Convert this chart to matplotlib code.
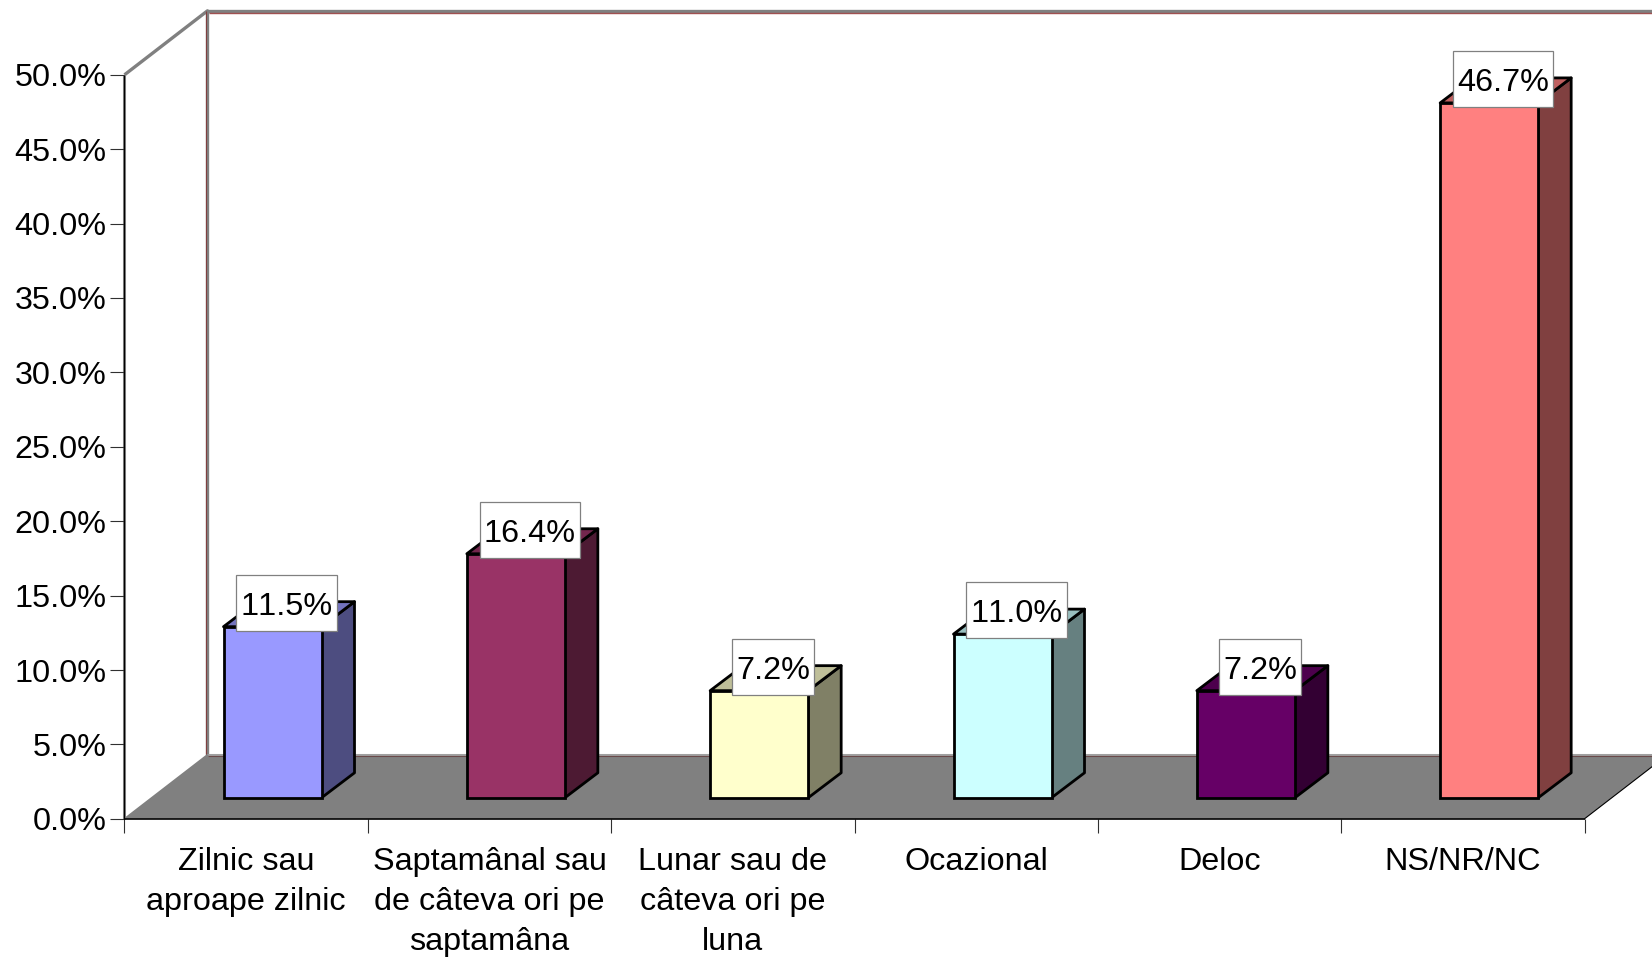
import matplotlib.pyplot as plt
import numpy as np
from matplotlib.colors import to_rgb
from matplotlib.patches import Polygon, Rectangle

plt.rcParams['font.family'] = ['Liberation Sans', 'DejaVu Sans']
plt.rcParams['text.kerning_factor'] = 6

categories = [
    'Zilnic sau\naproape zilnic',
    'Saptamânal sau\nde câteva ori pe\nsaptamâna',
    'Lunar sau de\ncâteva ori pe\nluna',
    'Ocazional',
    'Deloc',
    'NS/NR/NC',
]
values = [11.5, 16.4, 7.2, 11.0, 7.2, 46.7]
value_labels = ['11.5%', '16.4%', '7.2%', '11.0%', '7.2%', '46.7%']
colors = ['#9999FF', '#993366', '#FFFFCC', '#CCFFFF', '#660066', '#FF8080']
y_ticks = np.arange(0, 55, 5)

W, H = 1652, 957
PX_X = 1 / 243.33  # one pixel in category units
PX_Y = 1 / 14.88   # one pixel in percent units

# depth of the fake 3d box and of the bars
wall_dx, wall_dy = 83 * PX_X, 64 * PX_Y
bar_dx, bar_dy = 33 * PX_X, 25 * PX_Y
bar_x0, bar_y0 = 99 * PX_X, 21 * PX_Y
bar_w = 98 * PX_X

fig = plt.figure(figsize=(W / 100, H / 100), dpi=100)
ax = fig.add_axes([124.5 / W, (H - 818.8) / H, 1460 / W, 744 / H])
ax.set_xlim(0, 6)
ax.set_ylim(0, 50)
for s in ax.spines.values():
    s.set_visible(False)
ax.patch.set_visible(False)


def poly(pts, **kw):
    ax.add_patch(Polygon(pts, closed=True, clip_on=False, **kw))


def line(xs, ys, color, lw, z=1.5):
    ax.plot(xs, ys, color=color, lw=lw, clip_on=False, zorder=z,
            solid_capstyle='butt')


# floor
right = 6 + wall_dx
poly([(0, 0), (6, 0), (right, wall_dy), (wall_dx, wall_dy)],
     facecolor='#808080', edgecolor='none', zorder=1)

# walls: grey outline with a thin dark red line inside
top = 50 + wall_dy
line([0, wall_dx, wall_dx], [50, top, wall_dy], '#808080', 2.4)
line([wall_dx, right], [top, top], '#808080', 2.4)
line([wall_dx, right], [wall_dy, wall_dy], '#A0A0A0', 2.2)
line([wall_dx + 1.5 * PX_X, right], [top - 2 * PX_Y, top - 2 * PX_Y], '#A05050', 1.0)
line([wall_dx - 1.4 * PX_X, wall_dx - 1.4 * PX_X], [top, wall_dy], '#804040', 0.8)
line([wall_dx, right], [wall_dy - 1.5 * PX_Y, wall_dy - 1.5 * PX_Y], '#6A4A4A', 0.8)
line([0, wall_dx], [0, wall_dy], '#808080', 1.2)
line([0, 0], [0, 50], '#808080', 2.2)
line([-0.6 * PX_X, -0.6 * PX_X], [0, 50], '#000000', 0.8, 1.6)
line([0, 6], [0, 0], '#000000', 1.2, 1.6)
line([6, right], [0, wall_dy], '#000000', 0.8, 1.6)

# bars
xs = np.arange(len(values)) + bar_x0
for x, v, c in zip(xs, values, colors):
    rgb = np.array(to_rgb(c))
    x1 = x + bar_w
    y1 = bar_y0 + v
    poly([(x1, bar_y0), (x1 + bar_dx, bar_y0 + bar_dy), (x1 + bar_dx, y1 + bar_dy), (x1, y1)],
         facecolor=rgb * 0.5, edgecolor='black', lw=2.0, joinstyle='round', zorder=2)
    poly([(x, y1), (x1, y1), (x1 + bar_dx, y1 + bar_dy), (x + bar_dx, y1 + bar_dy)],
         facecolor=rgb * 0.75, edgecolor='black', lw=2.0, joinstyle='round', zorder=2)
ax.bar(xs, values, width=bar_w, bottom=bar_y0, align='edge', color=colors,
       edgecolor='black', linewidth=2.0, clip_on=False, zorder=3)

# value labels in white boxes
renderer = fig.canvas.get_renderer()
for x, v, lab in zip(xs, values, value_labels):
    cx = x + bar_w / 2 + 14 * PX_X
    cy = bar_y0 + v + 24 * PX_Y
    t = ax.text(cx, cy - 4 * PX_Y, lab, ha='center', va='center', fontsize=23.3, color='black',
                zorder=6, clip_on=False)
    box_w = (t.get_window_extent(renderer).width + 8) * PX_X
    box_h = 56 * PX_Y
    ax.add_patch(Rectangle((cx - box_w / 2, cy - box_h / 2), box_w, box_h, facecolor='white',
                           edgecolor='#808080', lw=0.9, clip_on=False, zorder=5))

# axes ticks
ax.set_yticks(y_ticks)
ax.set_yticklabels([f'{v:.1f}%' for v in y_ticks], fontsize=23.3)
ax.tick_params(axis='y', length=10, width=0.8, pad=3, color='#303030')
ax.set_xticks(np.arange(0, 7), minor=True)
ax.tick_params(axis='x', which='minor', length=10, width=0.8, color='#303030')
ax.set_xticks(np.arange(len(categories)) + 0.5)
ax.set_xticklabels(categories, fontsize=23.3, linespacing=1.44)
ax.tick_params(axis='x', which='major', length=0, pad=20)

fig.savefig('out.png', dpi=100, facecolor='white')
